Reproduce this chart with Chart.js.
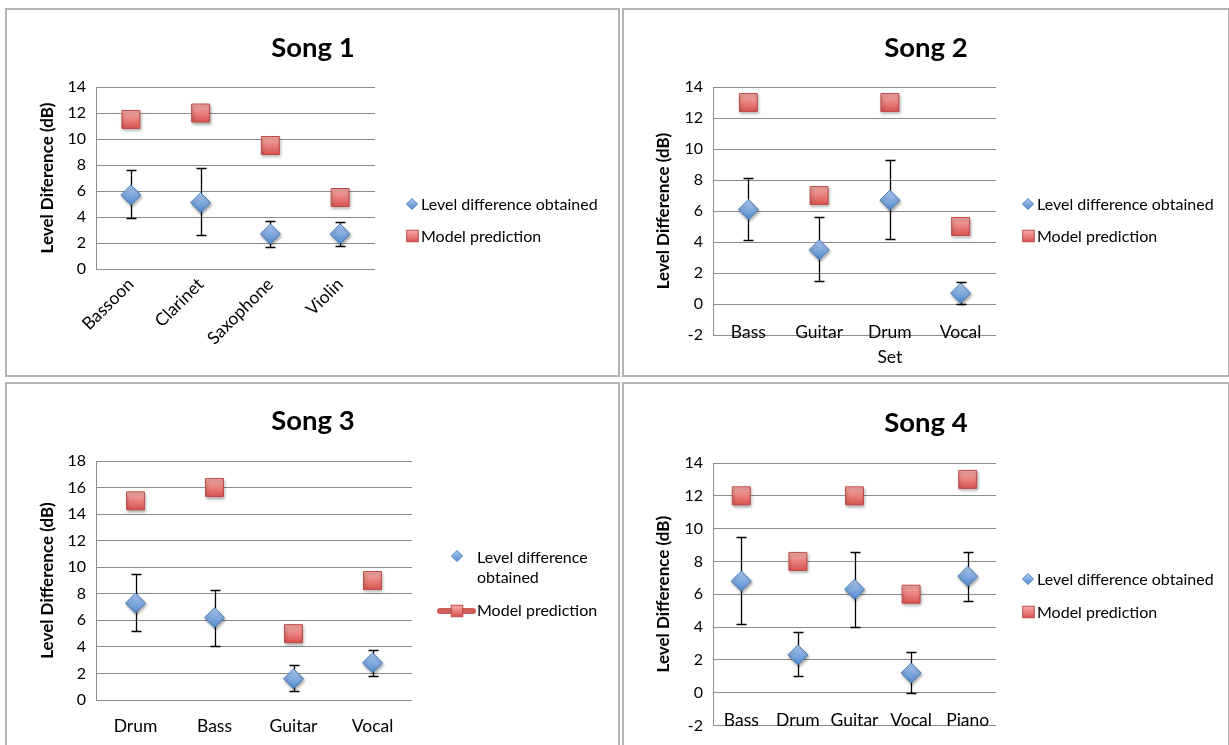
<!DOCTYPE html>
<html><head><meta charset="utf-8"><title>Level difference per song</title>
<script src="https://cdn.jsdelivr.net/npm/chart.js@4/dist/chart.umd.min.js"></script>
<style>
html,body{margin:0;padding:0;background:#fff;overflow:hidden;}
body{width:1229px;height:745px;position:relative;}
.frame{position:absolute;box-sizing:border-box;border:2px solid #b3b3b3;}
canvas{position:absolute;}
</style></head><body>
<div class="frame" style="left:5px;top:8px;width:615px;height:369px"></div>
<div class="frame" style="left:622px;top:8px;width:608px;height:369px"></div>
<div class="frame" style="left:5px;top:382px;width:615px;height:380px"></div>
<div class="frame" style="left:622px;top:382px;width:608px;height:380px"></div>
<canvas id="c1" width="610" height="363" style="left:8px;top:11px"></canvas>
<canvas id="c2" width="604" height="363" style="left:624px;top:11px"></canvas>
<canvas id="c3" width="610" height="360" style="left:8px;top:385px"></canvas>
<canvas id="c4" width="604" height="360" style="left:624px;top:385px"></canvas>
<script>
// ---------- DATA ----------
const seriesObtainedLabel = 'Level difference obtained';
const seriesModelLabel = 'Model prediction';

const song1Categories = ['Bassoon', 'Clarinet', 'Saxophone', 'Violin'];
const song1Obtained = [5.7, 5.1, 2.7, 2.7];
const song1Low      = [3.9, 2.6, 1.7, 1.8];
const song1High     = [7.6, 7.8, 3.7, 3.6];
const song1Model    = [11.5, 12, 9.5, 5.5];
const song1YTicks   = [0, 2, 4, 6, 8, 10, 12, 14];

const song2Categories = ['Bass', 'Guitar', ['Drum', 'Set'], 'Vocal'];
const song2Obtained = [6.1, 3.5, 6.7, 0.7];
const song2Low      = [4.1, 1.5, 4.2, 0.0];
const song2High     = [8.1, 5.6, 9.3, 1.4];
const song2Model    = [13, 7, 13, 5];
const song2YTicks   = [-2, 0, 2, 4, 6, 8, 10, 12, 14];

const song3Categories = ['Drum', 'Bass', 'Guitar', 'Vocal'];
const song3Obtained = [7.3, 6.2, 1.6, 2.8];
const song3Low      = [5.2, 4.1, 0.7, 1.8];
const song3High     = [9.5, 8.3, 2.6, 3.8];
const song3Model    = [15, 16, 5, 9];
const song3YTicks   = [0, 2, 4, 6, 8, 10, 12, 14, 16, 18];

const song4Categories = ['Bass', 'Drum', 'Guitar', 'Vocal', 'Piano'];
const song4Obtained = [6.8, 2.3, 6.3, 1.2, 7.1];
const song4Low      = [4.2, 1.0, 4.0, -0.05, 5.6];
const song4High     = [9.5, 3.7, 8.6, 2.5, 8.6];
const song4Model    = [12, 8, 12, 6, 13];
const song4YTicks   = [-2, 0, 2, 4, 6, 8, 10, 12, 14];

// ---------- STYLE ----------
const FONT = "Lato, 'Open Sans', sans-serif";
const GRID = '#8c8c8c';
const DIA = {top: '#b0cdf2', bottom: '#5288cc', border: '#4a7ebb'};
const SQ = {top: '#f6aeaa', bottom: '#d9534f', border: '#be4b48'};

function gradFill(col, r) {
  return (c) => {
    const ch = c.chart;
    if (c.type !== 'data' || !ch.chartArea || !ch.scales || !ch.scales.y || !c.parsed) return col.bottom;
    const y = ch.scales.y.getPixelForValue(c.parsed.y);
    if (!isFinite(y)) return col.bottom;
    const g = ch.ctx.createLinearGradient(0, y - r, 0, y + r);
    g.addColorStop(0, col.top); g.addColorStop(1, col.bottom);
    return g;
  };
}

const errorBarPlugin = {
  id: 'errorBars',
  beforeDatasetsDraw(chart) {
    const ds = chart.data.datasets[0];
    if (!ds.errLow) return;
    const meta = chart.getDatasetMeta(0);
    const ys = chart.scales.y, ctx = chart.ctx;
    ctx.save();
    ctx.strokeStyle = '#000'; ctx.lineWidth = 1.3;
    meta.data.forEach((pt, i) => {
      const x = Math.round(pt.x) + 0.5;
      const yl = Math.round(ys.getPixelForValue(ds.errLow[i])) + 0.5;
      const yh = Math.round(ys.getPixelForValue(ds.errHigh[i])) + 0.5;
      ctx.beginPath();
      ctx.moveTo(x, yl); ctx.lineTo(x, yh);
      ctx.moveTo(x - 5, yl); ctx.lineTo(x + 5, yl);
      ctx.moveTo(x - 5, yh); ctx.lineTo(x + 5, yh);
      ctx.stroke();
    });
    ctx.restore();
  }
};

const shadowPlugin = {
  id: 'markerShadow',
  beforeDatasetDraw(chart) {
    const ctx = chart.ctx; ctx.save();
    ctx.shadowColor = 'rgba(0,0,0,0.35)'; ctx.shadowBlur = 3;
    ctx.shadowOffsetX = 1; ctx.shadowOffsetY = 2;
  },
  afterDatasetDraw(chart) { chart.ctx.restore(); }
};

function drawDiamond(ctx, x, y, r) {
  const g = ctx.createLinearGradient(0, y - r, 0, y + r);
  g.addColorStop(0, DIA.top); g.addColorStop(1, DIA.bottom);
  ctx.beginPath();
  ctx.moveTo(x, y - r); ctx.lineTo(x + r, y); ctx.lineTo(x, y + r); ctx.lineTo(x - r, y); ctx.closePath();
  ctx.fillStyle = g; ctx.fill();
  ctx.strokeStyle = DIA.border; ctx.lineWidth = 1; ctx.stroke();
}
function drawSquare(ctx, x, y, s) {
  const h = s / 2;
  const g = ctx.createLinearGradient(0, y - h, 0, y + h);
  g.addColorStop(0, SQ.top); g.addColorStop(1, SQ.bottom);
  ctx.fillStyle = g; ctx.fillRect(x - h, y - h, s, s);
  ctx.strokeStyle = SQ.border; ctx.lineWidth = 1; ctx.strokeRect(x - h, y - h, s, s);
}

function legendPlugin(spec) {
  return {
    id: 'panelLegend',
    afterDraw(chart) {
      const ctx = chart.ctx;
      ctx.save();
      ctx.font = '16px ' + FONT;
      ctx.textBaseline = 'middle'; ctx.textAlign = 'left';
      chart.data.datasets.forEach((ds, i) => {
        const it = spec[i];
        if (it.line) {
          ctx.save();
          ctx.strokeStyle = '#cf5e5a'; ctx.lineWidth = 6; ctx.lineCap = 'round';
          ctx.beginPath(); ctx.moveTo(it.line[0], it.my); ctx.lineTo(it.line[1], it.my); ctx.stroke();
          ctx.restore();
        }
        if (i === 0) drawDiamond(ctx, it.mx, it.my, it.size); else drawSquare(ctx, it.mx, it.my, it.size);
        ctx.fillStyle = '#000';
        const lines = it.wrap || [ds.label];
        lines.forEach((t, k) => ctx.fillText(t, it.tx, it.ty + k * 20));
      });
      ctx.restore();
    }
  };
}

function makePanel(id, p) {
  const step = p.yTicks[1] - p.yTicks[0];
  return new Chart(document.getElementById(id), {
    type: 'line',
    data: {
      labels: p.categories,
      datasets: [
        {
          label: seriesObtainedLabel, data: p.obtained, errLow: p.low, errHigh: p.high,
          showLine: false, pointStyle: 'rectRot', pointRadius: 10, pointHoverRadius: 10,
          pointBackgroundColor: gradFill(DIA, 10), pointBorderColor: DIA.border, pointBorderWidth: 1, clip: false
        },
        {
          label: seriesModelLabel, data: p.model,
          showLine: false, pointStyle: 'rect', pointRadius: 12.7, pointHoverRadius: 12.7,
          pointBackgroundColor: gradFill(SQ, 9), pointBorderColor: SQ.border, pointBorderWidth: 1, clip: false
        }
      ]
    },
    options: {
      responsive: false, animation: false, events: [],
      layout: {padding: {left: 25, right: 25, top: 0, bottom: 0}},
      plugins: {
        legend: {display: false}, tooltip: {enabled: false},
        title: {display: true, text: p.title, color: '#000',
          font: {family: FONT, size: 27.5, weight: 'bold', lineHeight: 1.2},
          padding: {top: p.titleTop, bottom: p.titleBottom}}
      },
      scales: {
        x: {
          type: 'category', offset: true,
          grid: {display: false, drawTicks: false}, border: {display: false},
          ticks: {color: '#000', font: {family: FONT, size: 17.5, lineHeight: p.xLH}, padding: p.xPad,
            mirror: p.mirror, autoSkip: false, minRotation: p.rot, maxRotation: p.rot},
          afterFit(s) { s.height = p.xHeight; }
        },
        y: {
          type: 'linear', position: 'left',
          min: p.yTicks[0], max: p.yTicks[p.yTicks.length - 1],
          grid: {color: GRID, lineWidth: 1, drawTicks: false},
          border: {display: true, color: GRID, width: 1},
          ticks: {stepSize: step, color: '#000', font: {family: FONT, size: 16}, padding: 10},
          title: {display: true, text: p.yTitle, color: '#000', font: {family: FONT, size: 17, weight: 'bold', lineHeight: 1.2}, padding: {top: 4, bottom: 4}},
          afterFit(s) { s.width = p.yWidth; }
        },
        gap: {
          type: 'linear', position: 'right', display: true,
          grid: {display: false, drawTicks: false}, border: {display: false}, ticks: {display: false},
          afterFit(s) { s.width = p.gapWidth; }
        }
      }
    },
    plugins: [errorBarPlugin, shadowPlugin, legendPlugin(p.legend)]
  });
}

function build() {
  makePanel('c1', {
    categories: song1Categories, obtained: song1Obtained, low: song1Low, high: song1High, model: song1Model, yTicks: song1YTicks,
    title: 'Song 1', yTitle: 'Level Diference (dB)',
    titleTop: 20.5, titleBottom: 22.5, yWidth: 63, gapWidth: 218, xHeight: 105, xPad: 5, xLH: 1.2, mirror: false, rot: 45,
    legend: [{mx: 404, my: 193, size: 5.5, tx: 413, ty: 194}, {mx: 404.5, my: 225, size: 11.5, tx: 413, ty: 226}]
  });
  makePanel('c2', {
    categories: song2Categories, obtained: song2Obtained, low: song2Low, high: song2High, model: song2Model, yTicks: song2YTicks,
    title: 'Song 2', yTitle: 'Level Difference (dB)',
    titleTop: 20.5, titleBottom: 22.5, yWidth: 64, gapWidth: 207, xHeight: 39, xPad: -10, xLH: 1.4, mirror: true, rot: 0,
    legend: [{mx: 404, my: 193, size: 5.5, tx: 413, ty: 194}, {mx: 404.5, my: 225, size: 11.5, tx: 413, ty: 226}]
  });
  makePanel('c3', {
    categories: song3Categories, obtained: song3Obtained, low: song3Low, high: song3High, model: song3Model, yTicks: song3YTicks,
    title: 'Song 3', yTitle: 'Level Difference (dB)',
    titleTop: 19.5, titleBottom: 23.5, yWidth: 63, gapWidth: 181, xHeight: 45, xPad: 14, xLH: 1.4, mirror: false, rot: 0,
    legend: [{mx: 449, my: 171, size: 5.5, tx: 469, ty: 173, wrap: ['Level difference', 'obtained']},
             {mx: 449, my: 226, size: 11.5, tx: 469, ty: 226, line: [432, 465]}]
  });
  makePanel('c4', {
    categories: song4Categories, obtained: song4Obtained, low: song4Low, high: song4High, model: song4Model, yTicks: song4YTicks,
    title: 'Song 4', yTitle: 'Level Difference (dB)',
    titleTop: 21.5, titleBottom: 23.5, yWidth: 64, gapWidth: 207, xHeight: 15, xPad: -7, xLH: 1.4, mirror: true, rot: 0,
    legend: [{mx: 404, my: 194, size: 5.5, tx: 413, ty: 195}, {mx: 404.5, my: 227, size: 11.5, tx: 413, ty: 228}]
  });
}

Promise.all([
  document.fonts.load('15px Lato'), document.fonts.load('bold 15px Lato')
]).catch(() => {}).then(build);
</script>
</body></html>
